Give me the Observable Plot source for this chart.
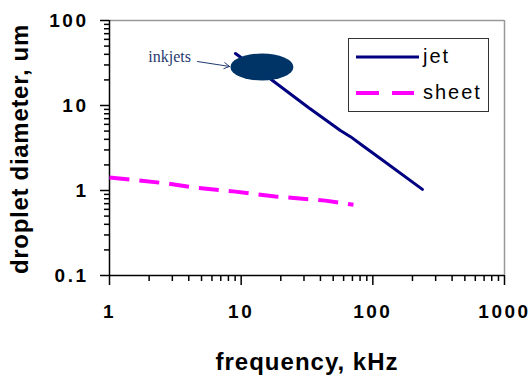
<!DOCTYPE html>
<html><head><meta charset="utf-8">
<script src="https://cdn.jsdelivr.net/npm/d3@7"></script>
<script src="https://cdn.jsdelivr.net/npm/@observablehq/plot@0.6"></script>
<style>
body{margin:0;background:#fff;}
g[aria-label="x-axis tick label"] text, g[aria-label="y-axis tick label"] text {letter-spacing:2.5px;font-weight:bold;}
</style></head><body><div id="chart"></div>
<script>
// data
const jetFreq = [9.05, 17.3, 32.4, 56.7, 67.6, 83.4, 114, 238];
const jetDiam = [40.9, 19.7, 9.46, 5.08, 4.3, 3.38, 2.38, 1.03];
const sheetFreq = [1, 2.76, 4.5, 9.05, 18.2, 43.7, 71.3];
const sheetDiam = [1.42, 1.21, 1.08, 0.97, 0.85, 0.76, 0.68];
const xTicks = [1, 10, 100, 1000];
const yTicks = [0.1, 1, 10, 100];
const xMinor = [2,3,4,5,6,7,8,9,20,30,40,50,60,70,80,90,200,300,400,500,600,700,800,900];
const yMinor = [0.2,0.3,0.4,0.5,0.6,0.7,0.8,0.9,2,3,4,5,6,7,8,9,20,30,40,50,60,70,80,90];
const seriesNames = ["jet", "sheet"];
const seriesColors = ["#000080", "#ff00ff"];
const inkjetLabel = {x: 2.86, y: 37.7, text: "inkjets"};
const inkjetArrow = {x1: 4.66, y1: 32.9, x2: 8.15, y2: 28.8};
const inkjetBlob = {x: 14.5, y: 28};
const xTitle = "frequency, kHz";
const yTitle = "droplet diameter, um";

const chart = Plot.plot({
  width: 530, height: 375,
  marginLeft: 109, marginRight: 26, marginTop: 20, marginBottom: 100,
  style: {fontFamily: "Liberation Sans, Arial, sans-serif", background: "white", overflow: "visible"},
  x: {type: "log", domain: [1, 1000]},
  y: {type: "log", domain: [0.1, 100]},
  marks: [
    Plot.ruleY([100], {stroke: "#999", strokeWidth: 1.5}),
    Plot.ruleX([1000], {stroke: "#999", strokeWidth: 1.5}),
    Plot.axisX({ticks: xMinor, tickSize: 6, tickFormat: () => "", stroke: "black", strokeWidth: 1.5, label: null}),
    Plot.axisX({ticks: xTicks, tickSize: 10, tickPadding: 19, tickFormat: d => String(d), fontSize: 19, fontWeight: "bold", stroke: "black", strokeWidth: 1.5, label: null}),
    Plot.axisY({ticks: yMinor, tickSize: 5, tickFormat: () => "", stroke: "black", strokeWidth: 1.5, label: null}),
    Plot.axisY({ticks: yTicks, tickSize: 9, tickPadding: 12, tickFormat: d => String(d), fontSize: 19, fontWeight: "bold", stroke: "black", strokeWidth: 1.5, label: null}),
    Plot.ruleX([1], {stroke: "black", strokeWidth: 1.5}),
    Plot.ruleY([0.1], {stroke: "black", strokeWidth: 1.5}),
    Plot.line(sheetFreq, {x: sheetFreq, y: sheetDiam, stroke: seriesColors[1], strokeWidth: 4, strokeDasharray: "20,10", strokeLinecap: "butt"}),
    Plot.line(jetFreq, {x: jetFreq, y: jetDiam, stroke: seriesColors[0], strokeWidth: 3}),
    Plot.arrow([inkjetArrow], {x1: "x1", y1: "y1", x2: "x2", y2: "y2", stroke: "#1f3a6e", strokeWidth: 1, headLength: 9}),
    Plot.text([inkjetLabel], {x: "x", y: "y", text: "text", fontFamily: "Liberation Serif, Times New Roman, serif", fontSize: 16, fill: "#1f3a6e", lineAnchor: "middle"}),
    Plot.text([yTitle], {frameAnchor: "left", dx: -89, dy: 1, rotate: -90, textAnchor: "middle", fontSize: 24, fontWeight: "bold", lineAnchor: "middle"}),
    Plot.text([xTitle], {frameAnchor: "bottom", dy: 87, dx: 0, textAnchor: "middle", fontSize: 24, fontWeight: "bold", lineAnchor: "middle"})
  ]
});

const sx = chart.scale("x"), sy = chart.scale("y");
const svg = d3.select(chart);
// spaced-out axis titles
svg.selectAll("text").filter(function() { return this.textContent === xTitle; }).style("letter-spacing", "1px");
svg.selectAll("text").filter(function() { return this.textContent === yTitle; }).style("letter-spacing", "0.7px");

// the inkjet blob, placed through the scales
svg.append("ellipse")
  .attr("cx", sx.apply(inkjetBlob.x)).attr("cy", sy.apply(inkjetBlob.y))
  .attr("rx", 31.5).attr("ry", 13.5).attr("fill", "#003366");

// legend box inside the frame, top right
const frameRight = 530 - 26, frameTop = 20;
const lg = svg.append("g").attr("transform", `translate(${frameRight - 156},${frameTop + 18})`);
lg.append("rect").attr("x", 0.5).attr("y", 0.5).attr("width", 140).attr("height", 73)
  .attr("fill", "white").attr("stroke", "#333").attr("stroke-width", 1);
seriesNames.forEach((name, i) => {
  const yy = 19 + i * 36;
  lg.append("line").attr("x1", 8).attr("x2", i === 0 ? 71 : 66).attr("y1", yy).attr("y2", yy)
    .attr("stroke", seriesColors[i]).attr("stroke-width", i === 0 ? 3 : 4)
    .attr("stroke-dasharray", i === 0 ? null : "23,13");
  lg.append("text").attr("x", 75).attr("y", yy + 6).text(name)
    .attr("text-anchor", "start").attr("font-weight", "normal")
    .attr("font-size", 20).attr("letter-spacing", "2px").attr("fill", "black");
});

document.getElementById("chart").append(chart);
</script></body></html>
